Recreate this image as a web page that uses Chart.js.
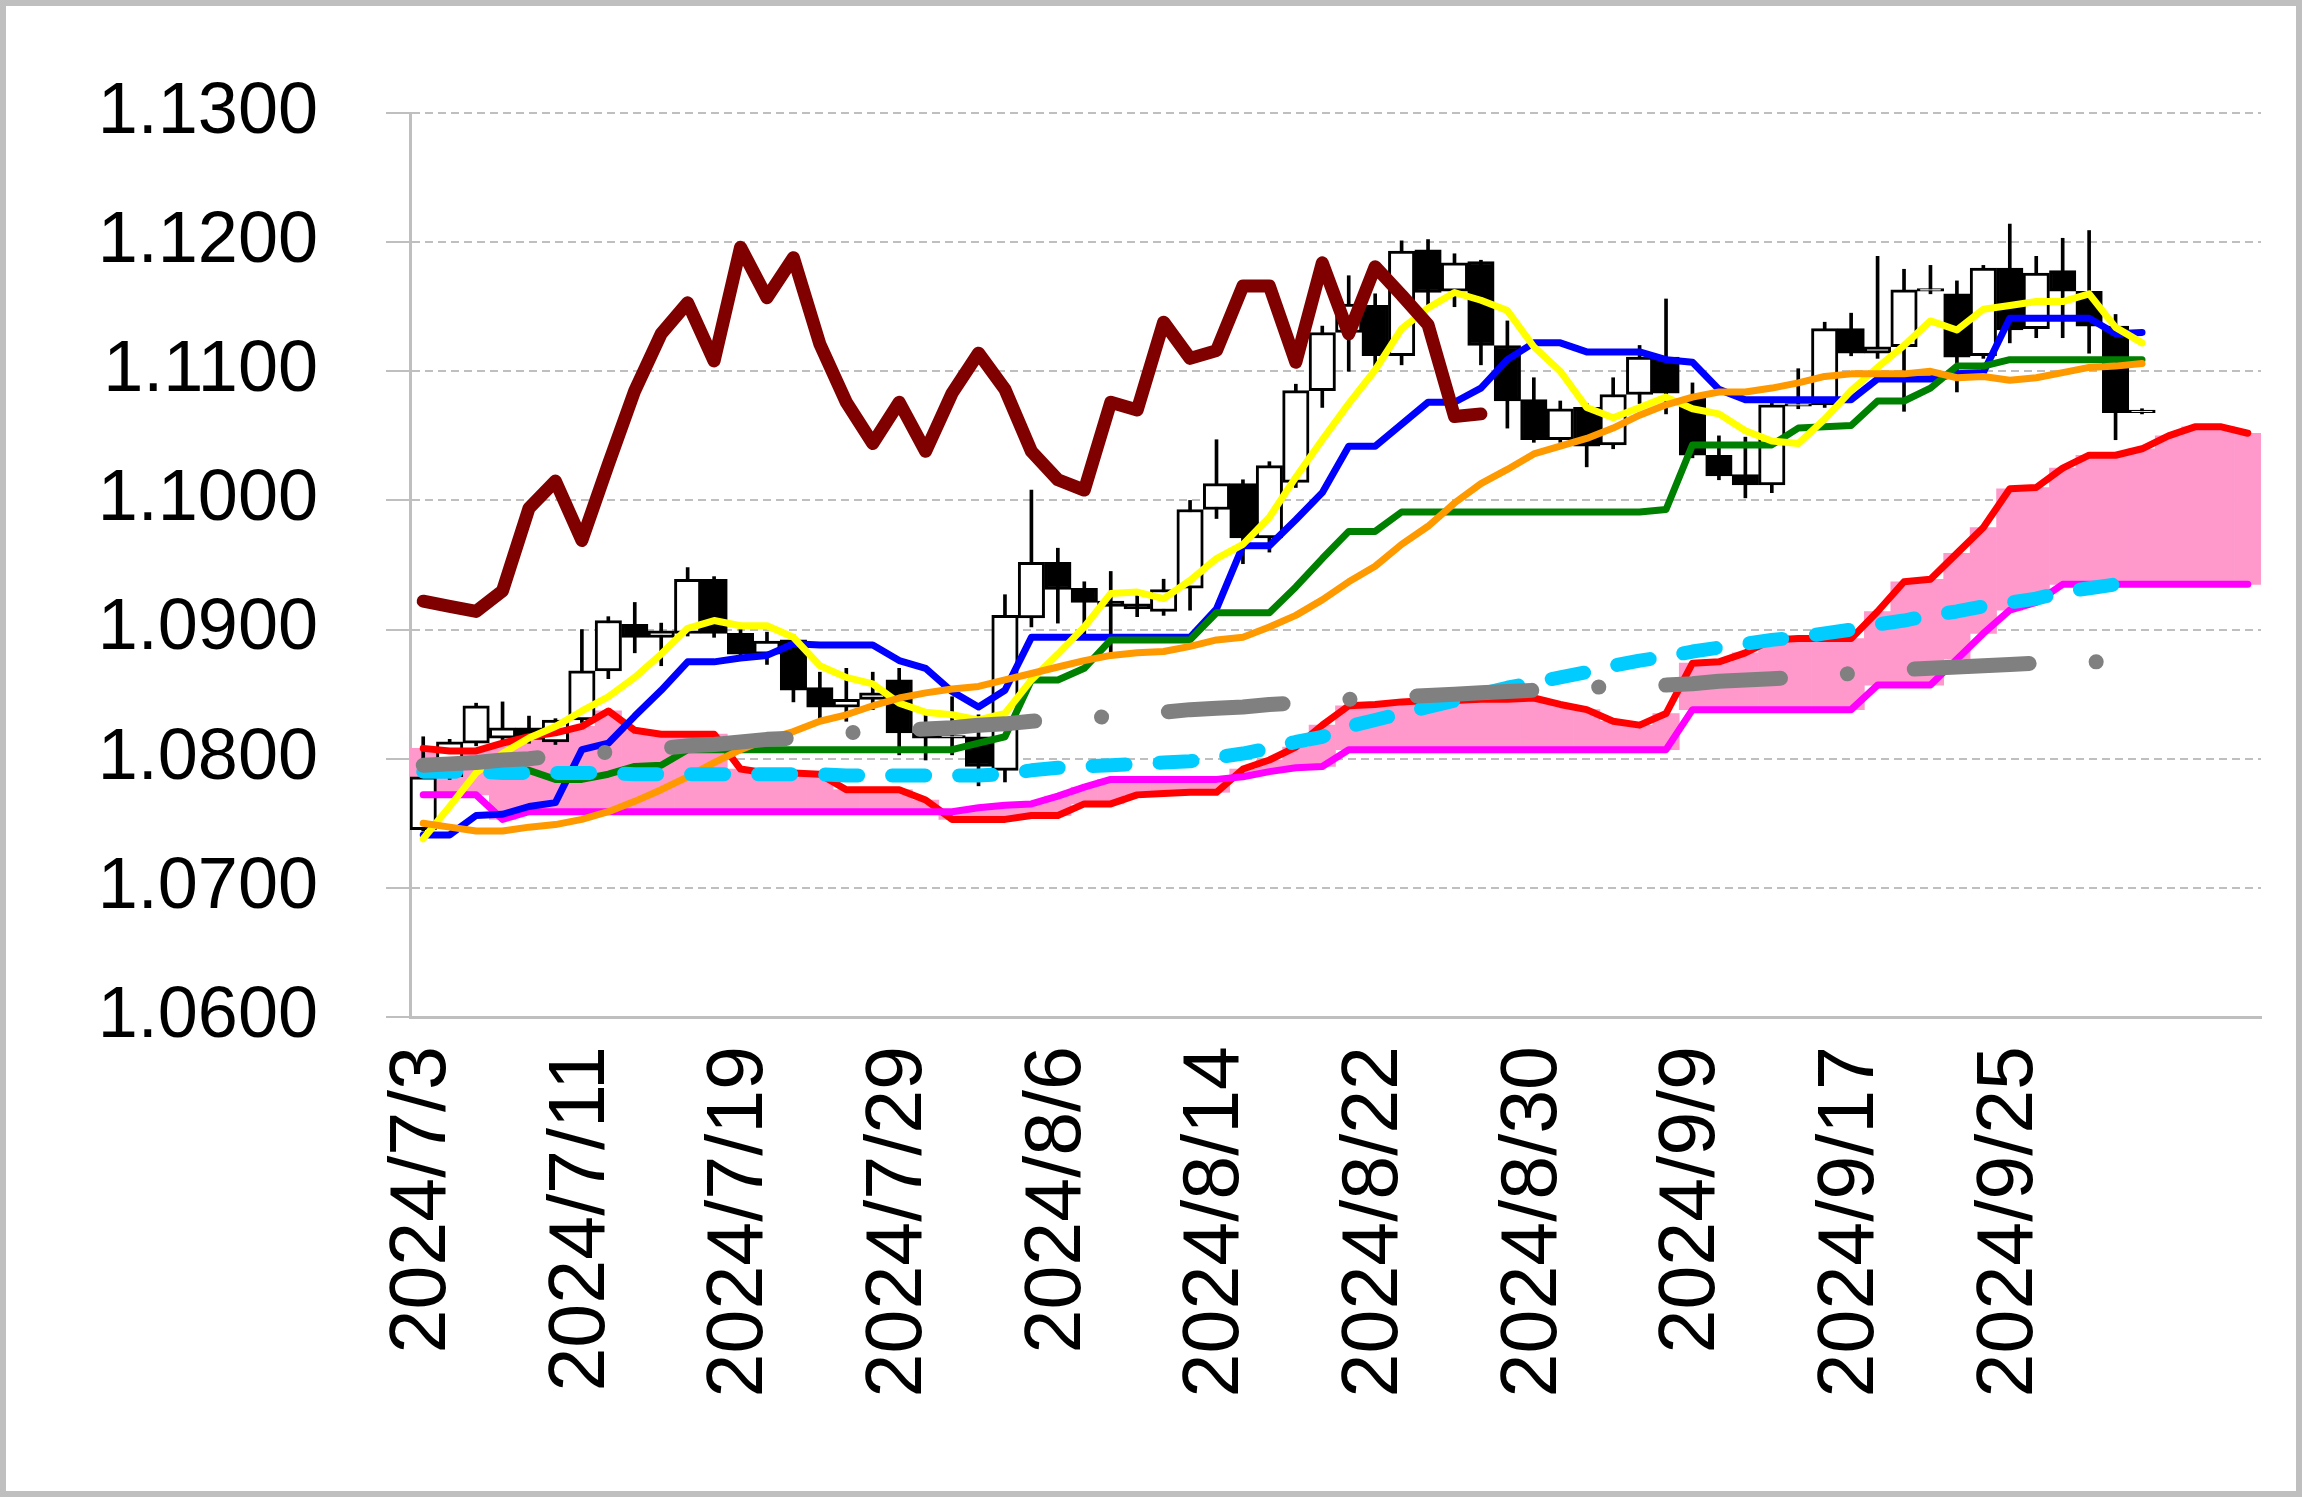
<!DOCTYPE html>
<html>
<head>
<meta charset="utf-8">
<script src="https://cdn.jsdelivr.net/npm/chart.js@4.4.1/dist/chart.umd.min.js"></script>
<style>
  html, body { margin: 0; padding: 0; background: #fff; }
  #wrap { width: 2302px; height: 1497px; }
</style>
</head>
<body>
<div id="wrap"><canvas id="ichimoku-chart" width="2302" height="1497"></canvas></div>
<script>
// categories: trading days, then 4 blank future slots for the cloud
const dates = [
  "2024/7/3", "2024/7/4", "2024/7/5", "2024/7/8", "2024/7/9", "2024/7/10", "2024/7/11", "2024/7/12", "2024/7/15", "2024/7/16",
  "2024/7/17", "2024/7/18", "2024/7/19", "2024/7/22", "2024/7/23", "2024/7/24", "2024/7/25", "2024/7/26", "2024/7/29", "2024/7/30",
  "2024/7/31", "2024/8/1", "2024/8/2", "2024/8/5", "2024/8/6", "2024/8/7", "2024/8/8", "2024/8/9", "2024/8/12", "2024/8/13",
  "2024/8/14", "2024/8/15", "2024/8/16", "2024/8/19", "2024/8/20", "2024/8/21", "2024/8/22", "2024/8/23", "2024/8/26", "2024/8/27",
  "2024/8/28", "2024/8/29", "2024/8/30", "2024/9/2", "2024/9/3", "2024/9/4", "2024/9/5", "2024/9/6", "2024/9/9", "2024/9/10",
  "2024/9/11", "2024/9/12", "2024/9/13", "2024/9/16", "2024/9/17", "2024/9/18", "2024/9/19", "2024/9/20", "2024/9/23", "2024/9/24",
  "2024/9/25", "2024/9/26", "2024/9/27", "2024/9/30", "2024/10/1", "2024/10/2", "", "", "", ""
];

const opens = [
  1.0745, 1.0786, 1.0812, 1.0816, 1.0824, 1.0813, 1.0830, 1.0868, 1.0904, 1.0894,
  1.0897, 1.0939, 1.0897, 1.0881, 1.0892, 1.0855, 1.0840, 1.0846, 1.0861, 1.0820,
  1.0816, 1.0817, 1.0791, 1.0909, 1.0952, 1.0932, 1.0922, 1.0920, 1.0914, 1.0932,
  1.0993, 1.1013, 1.0971, 1.1014, 1.1085, 1.1130, 1.1151, 1.1112, 1.1194, 1.1162,
  1.1185, 1.1120, 1.1078, 1.1047, 1.1072, 1.1043, 1.1082, 1.1111, 1.1079, 1.1035,
  1.1020, 1.1012, 1.1073, 1.1074, 1.1133, 1.1114, 1.1119, 1.1162, 1.1160, 1.1112,
  1.1180, 1.1133, 1.1178, 1.1162, 1.1135, 1.1068
];
const highs = [
  1.0817, 1.0815, 1.0843, 1.0844, 1.0833, 1.0831, 1.0900, 1.0910, 1.0921, 1.0905,
  1.0948, 1.0941, 1.0900, 1.0898, 1.0896, 1.0867, 1.0870, 1.0867, 1.0870, 1.0838,
  1.0848, 1.0834, 1.0927, 1.1008, 1.0963, 1.0937, 1.0945, 1.0930, 1.0939, 1.1000,
  1.1047, 1.1016, 1.1030, 1.1090, 1.1135, 1.1174, 1.1160, 1.1201, 1.1202, 1.1191,
  1.1186, 1.1139, 1.1095, 1.1077, 1.1075, 1.1095, 1.1120, 1.1156, 1.1091, 1.1050,
  1.1049, 1.1076, 1.1102, 1.1138, 1.1145, 1.1189, 1.1179, 1.1182, 1.1170, 1.1182,
  1.1214, 1.1189, 1.1203, 1.1209, 1.1144, 1.1071
];
const lows = [
  1.0744, 1.0784, 1.0810, 1.0812, 1.0812, 1.0811, 1.0828, 1.0862, 1.0882, 1.0872,
  1.0895, 1.0894, 1.0878, 1.0873, 1.0844, 1.0830, 1.0829, 1.0838, 1.0803, 1.0799,
  1.0803, 1.0779, 1.0782, 1.0902, 1.0905, 1.0894, 1.0881, 1.0910, 1.0911, 1.0915,
  1.0986, 1.0951, 1.0960, 1.1010, 1.1072, 1.1100, 1.1104, 1.1105, 1.1151, 1.1150,
  1.1105, 1.1056, 1.1045, 1.1045, 1.1026, 1.1040, 1.1075, 1.1067, 1.1033, 1.1016,
  1.1002, 1.1006, 1.1071, 1.1072, 1.1112, 1.1110, 1.1069, 1.1160, 1.1084, 1.1110,
  1.1122, 1.1126, 1.1126, 1.1114, 1.1047, 1.1067
];
const closes = [
  1.0786, 1.0813, 1.0841, 1.0824, 1.0815, 1.0830, 1.0868, 1.0907, 1.0894, 1.0899,
  1.0939, 1.0897, 1.0881, 1.0891, 1.0853, 1.0840, 1.0846, 1.0851, 1.0820, 1.0816,
  1.0818, 1.0794, 1.0911, 1.0952, 1.0931, 1.0921, 1.0918, 1.0916, 1.0931, 1.0993,
  1.1013, 1.0971, 1.1027, 1.1085, 1.1130, 1.1152, 1.1112, 1.1193, 1.1161, 1.1184,
  1.1120, 1.1077, 1.1047, 1.1071, 1.1042, 1.1082, 1.1111, 1.1083, 1.1035, 1.1019,
  1.1012, 1.1074, 1.1075, 1.1133, 1.1114, 1.1119, 1.1163, 1.1164, 1.1111, 1.1180,
  1.1132, 1.1176, 1.1162, 1.1135, 1.1068, 1.1070
];

const tenkan = [ // blue
  1.0741, 1.0741, 1.0756, 1.0757, 1.0763, 1.0766, 1.0807, 1.0812, 1.0833, 1.0853,
  1.0875, 1.0875, 1.0878, 1.0880, 1.0889, 1.0888, 1.0888, 1.0888, 1.0876, 1.0870,
  1.0852, 1.0840, 1.0853, 1.0894, 1.0894, 1.0894, 1.0894, 1.0894, 1.0894, 1.0894,
  1.0916, 1.0965, 1.0965, 1.0985, 1.1006, 1.1042, 1.1042, 1.1059, 1.1076, 1.1076,
  1.1087, 1.1109, 1.1122, 1.1122, 1.1115, 1.1115, 1.1115, 1.1109, 1.1107, 1.1086,
  1.1078, 1.1078, 1.1078, 1.1078, 1.1078, 1.1094, 1.1094, 1.1094, 1.1098, 1.1099,
  1.1141, 1.1141, 1.1141, 1.1141, 1.1129, 1.1130
];
const kijun = [ // green
  1.0795, 1.0795, 1.0795, 1.0793, 1.0791, 1.0784, 1.0784, 1.0788, 1.0794, 1.0795,
  1.0807, 1.0807, 1.0807, 1.0807, 1.0807, 1.0807, 1.0807, 1.0807, 1.0807, 1.0807,
  1.0807, 1.0812, 1.0817, 1.0861, 1.0861, 1.0870, 1.0892, 1.0892, 1.0892, 1.0892,
  1.0913, 1.0913, 1.0913, 1.0933, 1.0955, 1.0976, 1.0976, 1.0991, 1.0991, 1.0991,
  1.0991, 1.0991, 1.0991, 1.0991, 1.0991, 1.0991, 1.0991, 1.0993, 1.1043, 1.1043,
  1.1043, 1.1043, 1.1056, 1.1057, 1.1058, 1.1077, 1.1077, 1.1087, 1.1104, 1.1104,
  1.1109, 1.1109, 1.1109, 1.1109, 1.1109, 1.1109
];
const senkouA = [ // red, runs 4 slots into the future
  1.0808, 1.0806, 1.0806, 1.0812, 1.0817, 1.0820, 1.0825, 1.0837, 1.0822, 1.0819,
  1.0819, 1.0819, 1.0792, 1.0789, 1.0789, 1.0788, 1.0776, 1.0776, 1.0776, 1.0768,
  1.0753, 1.0753, 1.0753, 1.0756, 1.0756, 1.0765, 1.0765, 1.0772, 1.0773, 1.0774,
  1.0774, 1.0792, 1.0799, 1.0809, 1.0826, 1.0841, 1.0842, 1.0844, 1.0845, 1.0845,
  1.0846, 1.0846, 1.0847, 1.0842, 1.0838, 1.0829, 1.0826, 1.0835, 1.0874, 1.0875,
  1.0882, 1.0892, 1.0893, 1.0893, 1.0893, 1.0914, 1.0937, 1.0939, 1.0959, 1.0979,
  1.1009, 1.1010, 1.1025, 1.1035, 1.1035, 1.1040, 1.1050, 1.1057, 1.1057, 1.1052
];
const senkouB = [ // magenta
  1.0772, 1.0772, 1.0772, 1.0753, 1.0759, 1.0759, 1.0759, 1.0759, 1.0759, 1.0759,
  1.0759, 1.0759, 1.0759, 1.0759, 1.0759, 1.0759, 1.0759, 1.0759, 1.0759, 1.0759,
  1.0759, 1.0762, 1.0764, 1.0765, 1.0771, 1.0778, 1.0784, 1.0784, 1.0784, 1.0784,
  1.0784, 1.0786, 1.0790, 1.0793, 1.0794, 1.0807, 1.0807, 1.0807, 1.0807, 1.0807,
  1.0807, 1.0807, 1.0807, 1.0807, 1.0807, 1.0807, 1.0807, 1.0807, 1.0838, 1.0838,
  1.0838, 1.0838, 1.0838, 1.0838, 1.0838, 1.0857, 1.0857, 1.0857, 1.0877, 1.0897,
  1.0915, 1.0921, 1.0935, 1.0935, 1.0935, 1.0935, 1.0935, 1.0935, 1.0935, 1.0935
];
const chikou = [ // dark red, drawn 25 days back
  1.0922, 1.0918, 1.0914, 1.0930, 1.0994, 1.1015, 1.0969, 1.1028, 1.1085, 1.1129,
  1.1153, 1.1108, 1.1196, 1.1157, 1.1188, 1.1121, 1.1076, 1.1044, 1.1076, 1.1038,
  1.1083, 1.1114, 1.1086, 1.1038, 1.1016, 1.1008, 1.1076, 1.1070, 1.1138, 1.1110,
  1.1116, 1.1166, 1.1166, 1.1107, 1.1184, 1.1129, 1.1181, 1.1159, 1.1136, 1.1065,
  1.1067
];
const shortMa = [ // yellow
  1.0738, 1.0763, 1.0789, 1.0804, 1.0816, 1.0825, 1.0837, 1.0848, 1.0863, 1.0881,
  1.0901, 1.0907, 1.0903, 1.0903, 1.0894, 1.0872, 1.0863, 1.0858, 1.0843, 1.0836,
  1.0834, 1.0830, 1.0835, 1.0861, 1.0881, 1.0902, 1.0928, 1.0929, 1.0924, 1.0938,
  1.0955, 1.0966, 1.0987, 1.1018, 1.1047, 1.1075, 1.1101, 1.1133, 1.1149, 1.1161,
  1.1155, 1.1147, 1.1119, 1.1100, 1.1072, 1.1064, 1.1072, 1.1080, 1.1071, 1.1067,
  1.1054, 1.1046, 1.1044, 1.1063, 1.1085, 1.1103, 1.1120, 1.1139, 1.1132, 1.1148,
  1.1151, 1.1154, 1.1154, 1.1160, 1.1134, 1.1122
];
const midMa = [ // orange
  1.0750, 1.0747, 1.0744, 1.0744, 1.0747, 1.0749, 1.0753, 1.0759, 1.0767, 1.0776,
  1.0786, 1.0797, 1.0807, 1.0815, 1.0821, 1.0829, 1.0834, 1.0841, 1.0847, 1.0851,
  1.0854, 1.0856, 1.0861, 1.0866, 1.0871, 1.0876, 1.0880, 1.0882, 1.0883, 1.0887,
  1.0892, 1.0894, 1.0902, 1.0911, 1.0923, 1.0937, 1.0949, 1.0966, 1.0980, 1.0998,
  1.1013, 1.1024, 1.1036, 1.1042, 1.1048, 1.1056, 1.1066, 1.1074, 1.1080, 1.1084,
  1.1084, 1.1087, 1.1091, 1.1096, 1.1098, 1.1098, 1.1098, 1.1100, 1.1095, 1.1096,
  1.1093, 1.1095, 1.1099, 1.1103, 1.1104, 1.1106
];
const longMaGray = [ // gray dash-dot
  1.0795, 1.0796, 1.0797, 1.0799, 1.0800, 1.0802, 1.0804, 1.0805, 1.0807, 1.0808,
  1.0810, 1.0811, 1.0813, 1.0815, 1.0816, 1.0818, 1.0820, 1.0821, 1.0822, 1.0823,
  1.0824, 1.0826, 1.0827, 1.0829, 1.0830, 1.0831, 1.0833, 1.0835, 1.0836, 1.0838,
  1.0839, 1.0840, 1.0842, 1.0843, 1.0845, 1.0846, 1.0847, 1.0848, 1.0849, 1.0850,
  1.0851, 1.0852, 1.0853, 1.0854, 1.0855, 1.0856, 1.0857, 1.0857, 1.0858, 1.0860,
  1.0861, 1.0862, 1.0863, 1.0864, 1.0866, 1.0867, 1.0869, 1.0870, 1.0871, 1.0872,
  1.0873, 1.0874, 1.0874, 1.0875, 1.0875
];
const longMaCyan = [ // cyan dashed
  1.0790, 1.0790, 1.0790, 1.0789, 1.0789, 1.0789, 1.0789, 1.0789, 1.0788, 1.0788,
  1.0788, 1.0788, 1.0788, 1.0788, 1.0788, 1.0788, 1.0787, 1.0787, 1.0787, 1.0787,
  1.0787, 1.0787, 1.0788, 1.0791, 1.0793, 1.0794, 1.0795, 1.0796, 1.0797, 1.0798,
  1.0801, 1.0804, 1.0808, 1.0813, 1.0817, 1.0825, 1.0830, 1.0835, 1.0840, 1.0845,
  1.0850, 1.0855, 1.0859, 1.0863, 1.0867, 1.0872, 1.0876, 1.0879, 1.0883, 1.0886,
  1.0889, 1.0892, 1.0894, 1.0897, 1.0900, 1.0904, 1.0907, 1.0911, 1.0914, 1.0918,
  1.0921, 1.0924, 1.0929, 1.0932, 1.0935, 1.0936
];

// floating bars built from the arrays above
const cloudBars = senkouA.map((a, i) => [senkouB[i], a]);
const wickBars = dates.map((d, i) => (i < highs.length ? [lows[i], highs[i]] : null));
const bodyBars = dates.map((d, i) => (i < opens.length ? [opens[i], closes[i]] : null));
const bodyColors = dates.map((d, i) => (closes[i] >= opens[i] ? "#ffffff" : "#000000"));

function lineSet(label, data, color, width, order, extra) {
    return Object.assign({
        type: "line",
        label: label,
        data: data,
        borderColor: color,
        backgroundColor: color,
        borderWidth: width,
        pointRadius: 0,
        tension: 0,
        fill: false,
        borderJoinStyle: "round",
        borderCapStyle: "round",
        order: order,
    }, extra || {});
}

// white page with the grey outer frame
const framePlugin = {
    id: "frame",
    beforeDraw(chart) {
        const { ctx, width, height } = chart;
        ctx.save();
        ctx.fillStyle = "#ffffff";
        ctx.fillRect(0, 0, width, height);
        ctx.strokeStyle = "#bfbfbf";
        ctx.lineWidth = 6;
        ctx.strokeRect(3, 3, width - 6, height - 6);
        ctx.restore();
    },
};

const ctx = document.getElementById("ichimoku-chart").getContext("2d");

new Chart(ctx, {
    type: "bar",
    data: {
        labels: dates,
        datasets: [
            {
                label: "雲",
                data: cloudBars,
                backgroundColor: "#ff99cc",
                borderWidth: 0,
                barPercentage: 1,
                categoryPercentage: 1,
                grouped: false,
                order: 12,
            },
            {
                label: "高値-安値",
                data: wickBars,
                backgroundColor: "#000000",
                barThickness: 3,
                grouped: false,
                order: 11,
            },
            {
                label: "始値-終値",
                data: bodyBars,
                backgroundColor: bodyColors,
                borderColor: "#000000",
                borderWidth: 3,
                borderSkipped: false,
                barPercentage: 1,
                categoryPercentage: 1,
                grouped: false,
                order: 10,
            },
            lineSet("先行スパン1", senkouA, "#ff0000", 7, 9),
            lineSet("先行スパン2", senkouB, "#ff00ff", 7, 8),
            lineSet("転換線", tenkan, "#0000ff", 7, 7),
            lineSet("基準線", kijun, "#008000", 7, 6),
            lineSet("短期線", shortMa, "#ffff00", 7, 5),
            lineSet("中期線", midMa, "#ff9900", 7, 4),
            lineSet("遅行スパン", chikou, "#800000", 13, 3),
            lineSet("長期線1", longMaCyan, "#00ccff", 14, 2, { borderDash: [33, 34] }),
            lineSet("長期線2", longMaGray, "#808080", 15, 1, { borderDash: [115, 67, 0.1, 67] }),
        ],
    },
    options: {
        responsive: false,
        animation: false,
        layout: { padding: { top: 113, right: 41, bottom: 0, left: 0 } },
        plugins: {
            legend: { display: false },
            tooltip: { enabled: false },
        },
        scales: {
            x: {
                grid: { display: false, drawTicks: false },
                border: { display: true, color: "#bfbfbf", width: 3 },
                ticks: {
                    autoSkip: false,
                    minRotation: 90,
                    maxRotation: 90,
                    padding: 29,
                    color: "#000000",
                    font: { family: "Liberation Sans", size: 79 },
                    callback: function (value, index) {
                        return index % 6 === 0 ? this.getLabelForValue(value) : "";
                    },
                },
                afterFit: (scale) => {
                    scale.height = 480;
                    scale.paddingLeft = 0;
                    scale.paddingRight = 0;
                },
            },
            y: {
                min: 1.06,
                max: 1.13,
                grid: {
                    color: "#bfbfbf",
                    lineWidth: 2,
                    tickLength: 24,
                    tickColor: "#bfbfbf",
                    tickWidth: 2,
                    tickBorderDash: [],
                },
                border: { display: true, color: "#bfbfbf", width: 3, dash: [8, 5] },
                ticks: {
                    stepSize: 0.01,
                    padding: 68,
                    color: "#000000",
                    font: { family: "Liberation Sans", size: 72 },
                    callback: (value) => value.toFixed(4),
                },
                afterFit: (scale) => { scale.width = 410; },
            },
        },
    },
    plugins: [framePlugin],
});
</script>
</body>
</html>
